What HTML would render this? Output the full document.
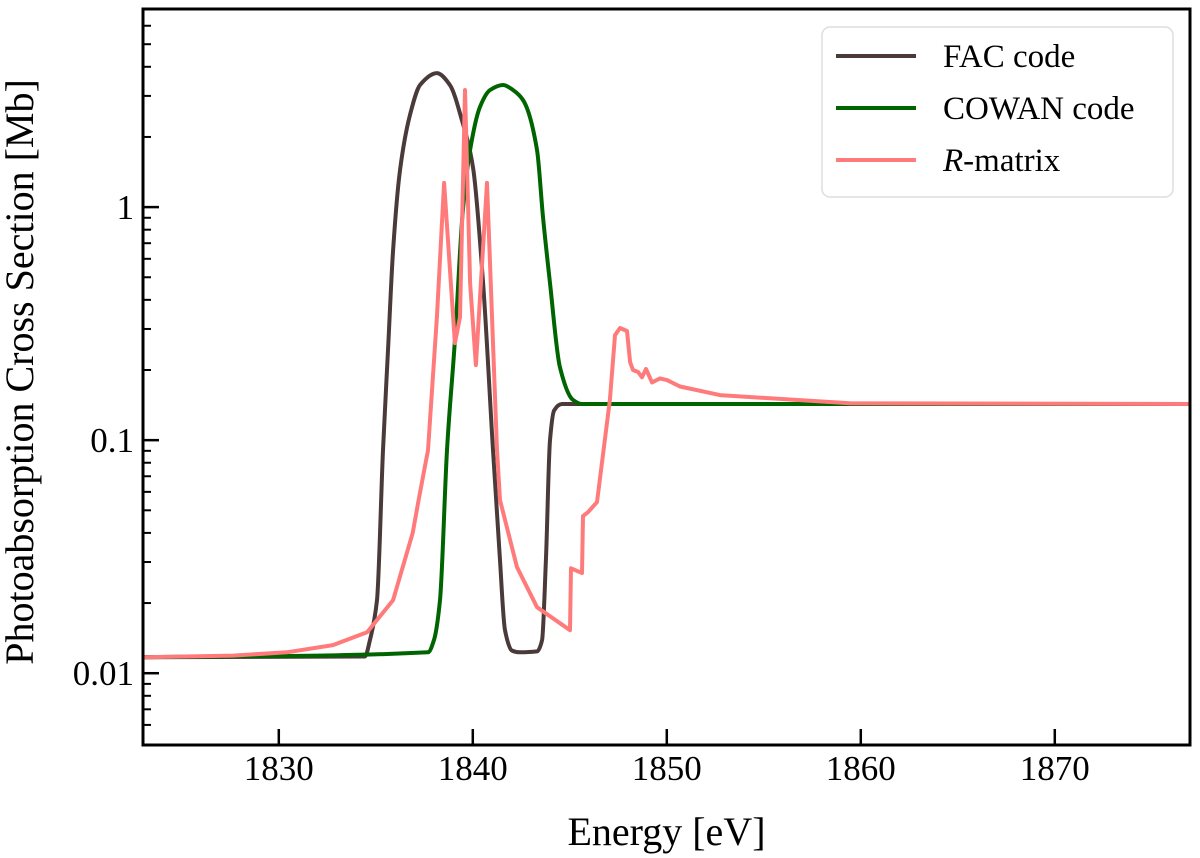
<!DOCTYPE html>
<html><head><meta charset="utf-8"><style>
html,body{margin:0;padding:0;background:#fff;}
svg{display:block;}
text{font-family:"Liberation Serif","DejaVu Serif",serif;}
</style></head><body>
<svg id="chart" width="1200" height="858" viewBox="0 0 1200 858">
<g id="plot"></g>
</svg>
<script>
const facE=[1823.0,1834.44,1834.70,1835.06,1835.37,1835.63,1835.89,1836.25,1836.76,1837.28,1838.15,1838.82,1839.44,1840.01,1840.53,1841.04,1841.40,1841.66,1842.02,1842.43,1843.31,1843.57,1843.77,1843.98,1844.19,1844.60,1876.97];
const facV=[0.0117,0.0118,0.0139,0.0206,0.0906,0.243,0.654,1.44,2.48,3.34,3.76,3.34,2.36,1.48,0.472,0.0906,0.0305,0.0153,0.0125,0.0123,0.0124,0.0139,0.0305,0.1,0.134,0.143,0.143];
const cowE=[1823.0,1837.69,1838.0,1838.31,1838.67,1839.08,1839.49,1839.86,1840.37,1840.89,1841.56,1842.07,1842.59,1843.31,1843.62,1843.98,1844.49,1845.16,1845.63,1876.97];
const cowV=[0.0117,0.0123,0.0139,0.0206,0.0906,0.268,0.97,1.76,2.69,3.18,3.34,3.18,2.88,1.76,0.906,0.472,0.206,0.149,0.143,0.143];
const rmE=[1823.0,1827.64,1830.42,1832.79,1834.55,1835.89,1836.9,1837.2,1837.69,1838.15,1838.52,1839.08,1839.34,1839.60,1839.86,1840.16,1840.73,1841.25,1841.40,1842.28,1843.31,1845.01,1845.06,1845.63,1845.68,1845.94,1846.40,1847.07,1847.33,1847.59,1847.95,1848.11,1848.26,1848.52,1848.72,1848.93,1849.24,1849.65,1850.01,1850.68,1852.74,1859.44,1876.97];
const rmV=[0.0117,0.0119,0.0123,0.0132,0.0150,0.0206,0.04,0.055,0.0906,0.337,1.27,0.261,0.337,3.18,0.472,0.210,1.27,0.0906,0.0553,0.0285,0.0192,0.0153,0.0282,0.0269,0.0472,0.0491,0.0542,0.149,0.282,0.303,0.294,0.216,0.200,0.196,0.186,0.202,0.177,0.184,0.181,0.170,0.156,0.144,0.143];
const xTicks=[1830,1840,1850,1860,1870];
const yTicks=[0.01,0.1,1];
const yTickLabels=["0.01","0.1","1"];
const legendLabels=["FAC code","COWAN code","R-matrix"];

const L=143,R=1190,T=9,B=745;
const X0=1823.0,X1=1876.97,LY0=Math.log10(0.00492),LY1=Math.log10(7.08);
const sx=e=>L+(e-X0)/(X1-X0)*(R-L);
const sy=v=>B-(Math.log10(v)-LY0)/(LY1-LY0)*(B-T);
const NS="http://www.w3.org/2000/svg";
const svg=document.getElementById('chart');
function mk(tag,attrs,parent){const el=document.createElementNS(NS,tag);for(const k in attrs)el.setAttribute(k,attrs[k]);(parent||svg).appendChild(el);return el;}

const defs=mk('defs',{});
const cp=mk('clipPath',{id:'clip'},defs);
mk('rect',{x:L,y:T,width:R-L,height:B-T},cp);

function monotonePath(xs,ys){
  const n=xs.length,d=[],m=new Array(n);
  for(let i=0;i<n-1;i++)d.push((ys[i+1]-ys[i])/(xs[i+1]-xs[i]));
  m[0]=d[0];m[n-1]=d[n-2];
  for(let i=1;i<n-1;i++){m[i]=(d[i-1]*d[i]<=0)?0:(3*(xs[i+1]-xs[i-1]))/((2*xs[i+1]-xs[i]-xs[i-1])/d[i-1]+(xs[i+1]+xs[i]-2*xs[i-1])/d[i]);}
  let p='M'+xs[0].toFixed(1)+','+ys[0].toFixed(1);
  for(let i=0;i<n-1;i++){const h=(xs[i+1]-xs[i])/3;
    p+=' C'+(xs[i]+h).toFixed(1)+','+(ys[i]+m[i]*h).toFixed(1)+' '+(xs[i+1]-h).toFixed(1)+','+(ys[i+1]-m[i+1]*h).toFixed(1)+' '+xs[i+1].toFixed(1)+','+ys[i+1].toFixed(1);}
  return p;
}
function series(E,V,color,name,smooth){
  const xs=E.map(sx),ys=V.map(sy);
  const d=smooth?monotonePath(xs,ys):xs.map((x,i)=>(i?'L':'M')+x.toFixed(1)+','+ys[i].toFixed(1)).join(' ');
  const p=mk('path',{d:d,fill:'none',stroke:color,'stroke-width':4,'stroke-linejoin':'round','clip-path':'url(#clip)'});
  
  
}
series(facE,facV,'#4b3a3a','fac-code-line',true);
series(cowE,cowV,'#006400','cowan-code-line',true);
series(rmE,rmV,'#ff7b7b','r-matrix-line',false);

const frame=mk('rect',{x:L,y:T,width:R-L,height:B-T,fill:'none',stroke:'#000','stroke-width':3});



xTicks.forEach(t=>{
  const x=sx(t);
  const tk=mk('line',{x1:x,x2:x,y1:B,y2:B-16,stroke:'#000','stroke-width':2.5});
  
  
  const lb=mk('text',{x:x,y:780,'font-size':35,'text-anchor':'middle'});
  lb.textContent=t;
  
  
});
yTicks.forEach((t,i)=>{
  const y=sy(t);
  const tk=mk('line',{x1:L,x2:L+16,y1:y,y2:y,stroke:'#000','stroke-width':2.5});
  
  
  const lb=mk('text',{x:134,y:y+12,'font-size':35,'text-anchor':'end'});
  lb.textContent=yTickLabels[i];
  
  
});
for(let d=-3;d<=0;d++){for(let m=2;m<=9;m++){const v=m*Math.pow(10,d);const y=sy(v);if(y<T+2||y>B-2)continue;
  const tk=mk('line',{x1:L,x2:L+8,y1:y,y2:y,stroke:'#000','stroke-width':2});
  
  
}}
const xt=mk('text',{x:(L+R)/2,y:845,'font-size':40,'text-anchor':'middle'});
xt.textContent='Energy [eV]';


const yt=mk('text',{x:0,y:0,'font-size':40,'text-anchor':'middle',transform:'translate(33,372) rotate(-90)'});
yt.textContent='Photoabsorption Cross Section [Mb]';



const lg=mk('g',{});


mk('rect',{x:822,y:27,width:351,height:170,rx:8,fill:'#fff',stroke:'#ddd','stroke-width':1.5},lg);
const cols=['#4b3a3a','#006400','#ff7b7b'];
legendLabels.forEach((s,i)=>{
  const y=56+i*52;
  const ln=mk('line',{x1:836,x2:916,y1:y,y2:y,stroke:cols[i],'stroke-width':4},lg);
  
  
  const tx=mk('text',{x:943,y:y+11,'font-size':33},lg);
  if(i===2){tx.innerHTML='<tspan font-style="italic">R</tspan>-matrix';}else{tx.textContent=s;}
  
  
});
</script>
</body></html>
